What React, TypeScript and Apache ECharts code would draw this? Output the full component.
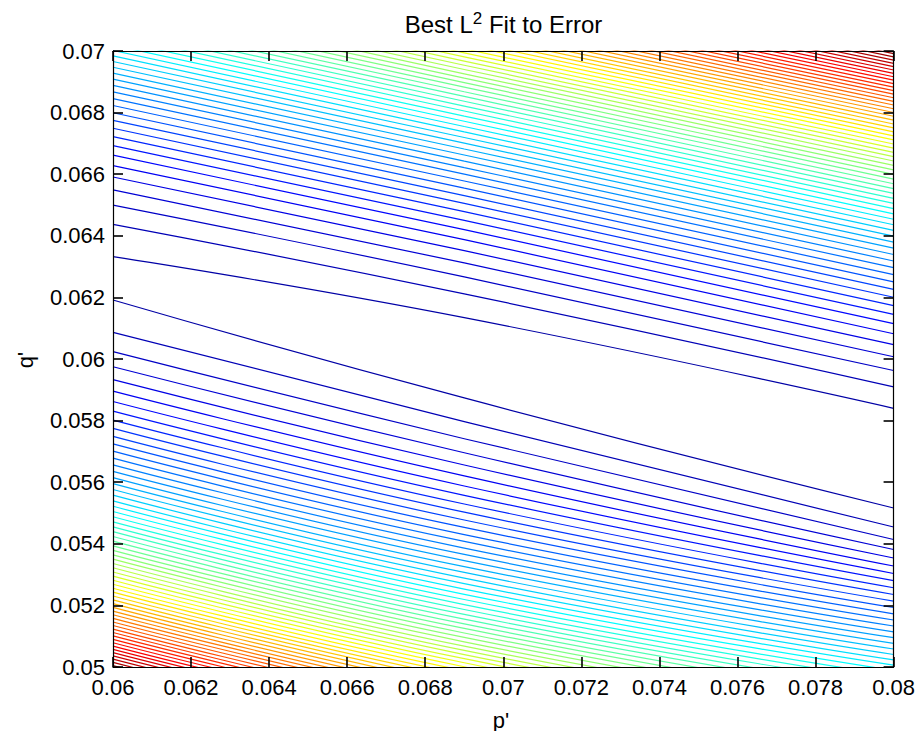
import React, { useEffect, useRef } from "react";
import * as echarts from "echarts";

// Axis ranges (p' horizontal, q' vertical)
const P_MIN = 0.06;
const P_MAX = 0.08;
const P_STEP = 0.002;
const Q_MIN = 0.05;
const Q_MAX = 0.07;
const Q_STEP = 0.002;

const pTransect = [0.06, 0.069, 0.08];

// Contour lines above the error valley: q' at p' = 0.06, 0.069, 0.08 (level 0 = innermost)
const upperLeft = [
  0.063321, 0.064373, 0.064997, 0.065489, 0.065909, 0.06628, 0.066617, 0.066928, 0.067218, 0.067491,
  0.067749, 0.067994, 0.06823, 0.068455, 0.068672, 0.068882, 0.069085, 0.069281, 0.069472, 0.069658,
  0.06984, 0.070017, 0.070189, 0.070357, 0.070522, 0.070684, 0.070843, 0.070998, 0.071151, 0.071301,
  0.071448, 0.071593, 0.071736, 0.071877, 0.072016, 0.072152, 0.072286, 0.072419, 0.07255, 0.072679,
  0.072806, 0.072932, 0.073057, 0.07318, 0.073301, 0.073422, 0.073541, 0.073658, 0.073775, 0.07389,
  0.074004, 0.074117, 0.074228, 0.074339, 0.074449, 0.074557, 0.074665, 0.074772, 0.074878, 0.074982,
  0.075086, 0.075189, 0.075292,
];
const upperMid = [
  0.061342, 0.062113, 0.062667, 0.063122, 0.063519, 0.063875, 0.064201, 0.064503, 0.064785, 0.065052,
  0.065305, 0.065547, 0.065779, 0.066001, 0.066216, 0.066423, 0.066624, 0.066819, 0.067008, 0.067192,
  0.067372, 0.067548, 0.067719, 0.067886, 0.068051, 0.068211, 0.068369, 0.068524, 0.068676, 0.068826,
  0.068972, 0.069117, 0.06926, 0.0694, 0.069538, 0.069674, 0.069808, 0.06994, 0.070071, 0.0702,
  0.070327, 0.070453, 0.070577, 0.0707, 0.070821, 0.070942, 0.071061, 0.071178, 0.071294, 0.071409,
  0.071523, 0.071636, 0.071748, 0.071858, 0.071968, 0.072077, 0.072184, 0.072291, 0.072397, 0.072502,
  0.072606, 0.072709, 0.072811,
];
const upperRight = [
  0.058399, 0.059096, 0.059627, 0.060074, 0.060466, 0.060821, 0.061147, 0.06145, 0.061735, 0.062005,
  0.06226, 0.062505, 0.06274, 0.062966, 0.063183, 0.063394, 0.063598, 0.063796, 0.063989, 0.064176,
  0.064359, 0.064538, 0.064713, 0.064884, 0.065051, 0.065215, 0.065376, 0.065534, 0.065689, 0.065842,
  0.065992, 0.066139, 0.066285, 0.066428, 0.066569, 0.066708, 0.066845, 0.06698, 0.067114, 0.067246,
  0.067376, 0.067504, 0.067631, 0.067757, 0.067881, 0.068004, 0.068125, 0.068246, 0.068364, 0.068482,
  0.068599, 0.068714, 0.068828, 0.068942, 0.069054, 0.069165, 0.069275, 0.069384, 0.069493, 0.0696,
  0.069706, 0.069812, 0.069917,
];

// Contour lines below the error valley: q' at p' = 0.06, 0.069, 0.08
const lowerLeft = [
  0.061915, 0.060864, 0.060239, 0.059747, 0.059328, 0.058957, 0.058619, 0.058308, 0.058018, 0.057747,
  0.057487, 0.057242, 0.057007, 0.056781, 0.056564, 0.056354, 0.056151, 0.055955, 0.055764, 0.055578,
  0.055396, 0.05522, 0.055048, 0.054879, 0.054714, 0.054552, 0.054394, 0.054238, 0.054085, 0.053935,
  0.053788, 0.053643, 0.0535, 0.05336, 0.053221, 0.053085, 0.05295, 0.052817, 0.052686, 0.052557,
  0.05243, 0.052304, 0.05218, 0.052057, 0.051935, 0.051815, 0.051696, 0.051578, 0.051462, 0.051347,
  0.051232, 0.05112, 0.051008, 0.050898, 0.050788, 0.05068, 0.050572, 0.050465, 0.050359, 0.050254,
  0.05015, 0.050047, 0.049944,
];
const lowerMid = [
  0.058736, 0.057965, 0.057411, 0.056955, 0.056559, 0.056203, 0.055877, 0.055575, 0.055293, 0.055026,
  0.054773, 0.054531, 0.054299, 0.054077, 0.053862, 0.053655, 0.053454, 0.053259, 0.05307, 0.052886,
  0.052706, 0.05253, 0.052359, 0.052191, 0.052027, 0.051866, 0.051709, 0.051554, 0.051401, 0.051252,
  0.051105, 0.050961, 0.050818, 0.050678, 0.05054, 0.050404, 0.05027, 0.050137, 0.050007, 0.049878,
  0.04975, 0.049625, 0.0495, 0.049378, 0.049256, 0.049136, 0.049017, 0.0489, 0.048784, 0.048669,
  0.048555, 0.048442, 0.04833, 0.04822, 0.04811, 0.048001, 0.047894, 0.047787, 0.047681, 0.047576,
  0.047472, 0.047369, 0.047267,
];
const lowerRight = [
  0.055162, 0.054545, 0.054139, 0.053815, 0.053539, 0.053279, 0.053036, 0.052802, 0.052574, 0.052354,
  0.052139, 0.051932, 0.051727, 0.051526, 0.051331, 0.051139, 0.050951, 0.050766, 0.050584, 0.050406,
  0.05023, 0.050058, 0.049889, 0.049724, 0.049561, 0.049402, 0.049246, 0.049091, 0.048938, 0.048789,
  0.048639, 0.048493, 0.048347, 0.048204, 0.048061, 0.047922, 0.047782, 0.047646, 0.047509, 0.047376,
  0.047243, 0.04711, 0.04698, 0.04685, 0.04672, 0.046594, 0.046467, 0.046341, 0.046217, 0.046094,
  0.04597, 0.04585, 0.04573, 0.04561, 0.045493, 0.045376, 0.045259, 0.045146, 0.045032, 0.044918,
  0.044805, 0.044695, 0.044584,
];

const FONT = "'Liberation Sans', Arial, Helvetica, sans-serif";

function clamp01(v: number) {
  return Math.max(0, Math.min(1, v));
}
// MATLAB "jet" colormap
function jet(t: number) {
  const r = clamp01(1.5 - Math.abs(4 * t - 3));
  const g = clamp01(1.5 - Math.abs(4 * t - 2));
  const b = clamp01(1.5 - Math.abs(4 * t - 1));
  return `rgb(${Math.round(r * 255)},${Math.round(g * 255)},${Math.round(b * 255)})`;
}

function makeAxis(position: string, min: number, max: number, step: number, withLabels: boolean) {
  return {
    type: "value",
    position,
    min,
    max,
    interval: step,
    z: 10,
    axisLine: { show: true, onZero: false, lineStyle: { color: "#000", width: 1.2 } },
    axisTick: { show: true, inside: true, length: 10, lineStyle: { color: "#000", width: 1.6 } },
    splitLine: { show: false },
    axisLabel: withLabels
      ? {
          show: true,
          margin: position === "bottom" ? 9 : 8,
          color: "#000",
          fontSize: 22,
          fontFamily: FONT,
          showMinLabel: true,
          showMaxLabel: true,
        }
      : { show: false },
  };
}

export default function App() {
  const ref = useRef<HTMLDivElement>(null);

  useEffect(() => {
    if (!ref.current) return;
    const chart = echarts.init(ref.current, undefined, { renderer: "svg" });

    const nLevels = upperLeft.length;
    const series: any[] = [];
    const groups = [
      [upperLeft, upperMid, upperRight],
      [lowerLeft, lowerMid, lowerRight],
    ];
    for (let k = 0; k < nLevels; k++) {
      const color = jet((k + 2.5) / (nLevels + 2.5));
      groups.forEach((g) => {
        series.push({
          type: "line",
          xAxisIndex: 0,
          yAxisIndex: 0,
          data: pTransect.map((p, i) => [p, g[i][k]]),
          symbol: "none",
          smooth: 0.5,
          clip: true,
          silent: true,
          z: 1,
          lineStyle: { color, width: 1.2 },
        });
      });
    }

    chart.setOption({
      animation: false,
      backgroundColor: "#ffffff",
      grid: { left: 113, right: 24, top: 51, bottom: 64 },
      xAxis: [
        makeAxis("bottom", P_MIN, P_MAX, P_STEP, true),
        makeAxis("top", P_MIN, P_MAX, P_STEP, false),
      ],
      yAxis: [
        makeAxis("left", Q_MIN, Q_MAX, Q_STEP, true),
        makeAxis("right", Q_MIN, Q_MAX, Q_STEP, false),
      ],
      graphic: [
        {
          type: "text",
          x: 503.5,
          y: 24.5,
          style: {
            text: "{a|Best L}{s|2}{a| Fit to Error}",
            align: "center",
            verticalAlign: "middle",
            fill: "#000",
            rich: {
              a: { fontSize: 24, fontFamily: FONT, lineHeight: 30, fill: "#000" },
              s: { fontSize: 17, fontFamily: FONT, lineHeight: 19, verticalAlign: "top", fill: "#000" },
            },
          },
        },
        {
          type: "text",
          x: 501,
          y: 720,
          style: {
            text: "p'",
            align: "center",
            verticalAlign: "middle",
            fill: "#000",
            fontSize: 22,
            fontFamily: FONT,
          },
        },
        {
          type: "text",
          x: 25,
          y: 360,
          rotation: Math.PI / 2,
          style: {
            text: "q'",
            align: "center",
            verticalAlign: "middle",
            fill: "#000",
            fontSize: 22,
            fontFamily: FONT,
          },
        },
      ],
      series,
    });

    return () => chart.dispose();
  }, []);

  return (
    <div
      ref={ref}
      style={{ position: "fixed", left: 0, top: 0, width: 918, height: 731, background: "#fff" }}
    />
  );
}
